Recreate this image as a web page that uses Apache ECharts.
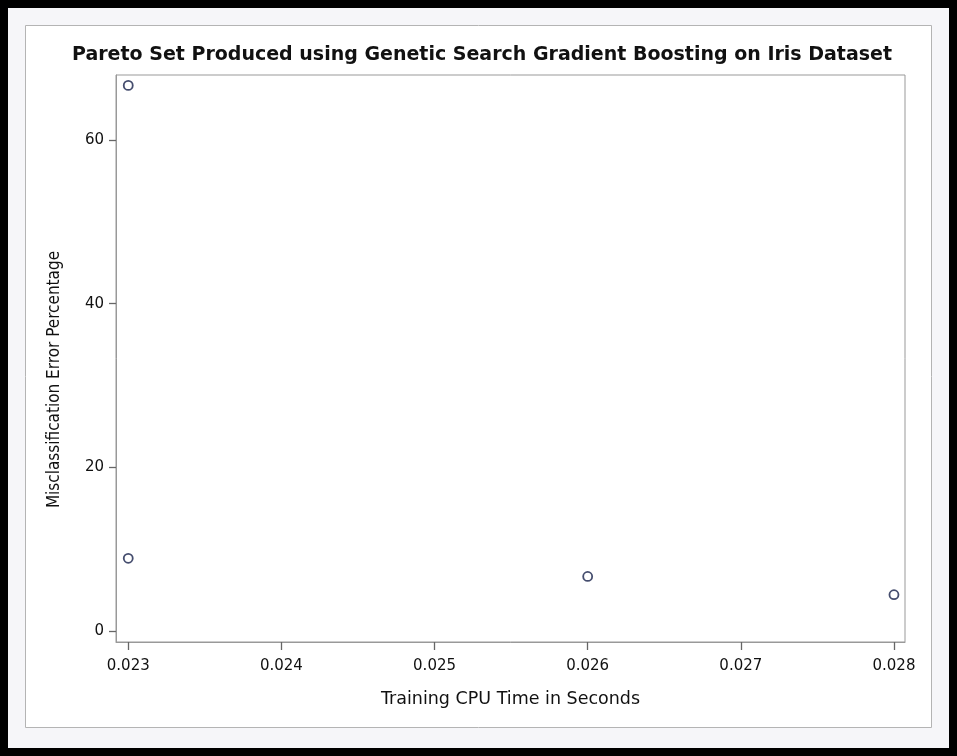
<!DOCTYPE html>
<html>
<head>
<meta charset="utf-8">
<script src="https://cdn.jsdelivr.net/npm/echarts@6/dist/echarts.min.js"></script>
<style>
  html, body { margin: 0; padding: 0; background: #000; }
  #chart { width: 957px; height: 756px; }
</style>
</head>
<body>
<div id="chart"></div>
<script>
// data
const cpuTime = [0.023, 0.023, 0.026, 0.028];
const errorPct = [66.67, 8.89, 6.67, 4.44];
const xTicks = [0.023, 0.024, 0.025, 0.026, 0.027, 0.028];
const yTicks = [0, 20, 40, 60];

const points = cpuTime.map((t, i) => [t, errorPct[i]]);

const myChart = echarts.init(document.getElementById("chart"));
const option = {
  backgroundColor: "#000",
  animation: false,
  graphic: [
    {
      type: "rect",
      shape: { x: 8, y: 8, width: 941, height: 740 },
      style: { fill: "#f6f6f9" },
      z: -10,
    },
    {
      type: "rect",
      shape: { x: 25.5, y: 25.5, width: 906, height: 702 },
      style: { fill: "#fff", stroke: "#b4b4b4", lineWidth: 1 },
      z: -9,
    },
  ],
  title: {
    text: "Pareto Set Produced using Genetic Search Gradient Boosting on Iris Dataset",
    left: 477,
    top: 41,
    textAlign: "center",
    textStyle: {
      fontFamily: "DejaVu Sans",
      fontWeight: "bold",
      fontSize: 19,
      color: "#111",
    },
  },
  grid: {
    left: 116,
    right: 52,
    top: 75,
    bottom: 114,
    show: true,
    borderColor: "#999",
    borderWidth: 1,
    backgroundColor: "transparent",
  },
  xAxis: {
    type: "value",
    min: 0.02292,
    max: 0.028072,
    name: "Training CPU Time in Seconds",
    nameLocation: "middle",
    nameGap: 48,
    nameTextStyle: { fontFamily: "DejaVu Sans", fontSize: 17.5, color: "#111" },
    splitLine: { show: false },
    axisLine: { show: true, onZero: false, lineStyle: { color: "#999" } },
    axisTick: {
      show: true,
      inside: false,
      length: 8,
      customValues: xTicks,
      lineStyle: { color: "#666", width: 1.3 },
    },
    axisLabel: {
      customValues: xTicks,
      formatter: (v) => v.toFixed(3),
      fontFamily: "DejaVu Sans",
      fontSize: 15,
      color: "#111",
      margin: 17,
    },
  },
  yAxis: {
    type: "value",
    min: -1.34,
    max: 67.94,
    name: "Misclassification Error Percentage",
    nameLocation: "middle",
    nameGap: 53,
    nameTextStyle: {
      fontFamily: "DejaVu Sans Condensed",
      fontSize: 17,
      color: "#111",
      padding: [0, 42, 0, 0],
    },
    splitLine: { show: false },
    axisLine: { show: true, onZero: false, lineStyle: { color: "#999" } },
    axisTick: {
      show: true,
      inside: false,
      length: 7,
      customValues: yTicks,
      lineStyle: { color: "#666", width: 1.3 },
    },
    axisLabel: {
      customValues: yTicks,
      fontFamily: "DejaVu Sans",
      fontSize: 15,
      color: "#111",
      margin: 12,
    },
  },
  series: [
    {
      type: "scatter",
      data: points,
      symbol: "circle",
      symbolSize: 9,
      itemStyle: {
        color: "#fff",
        borderColor: "#17204a",
        borderWidth: 1.8,
      },
    },
  ],
};
myChart.setOption(option);
</script>
</body>
</html>
